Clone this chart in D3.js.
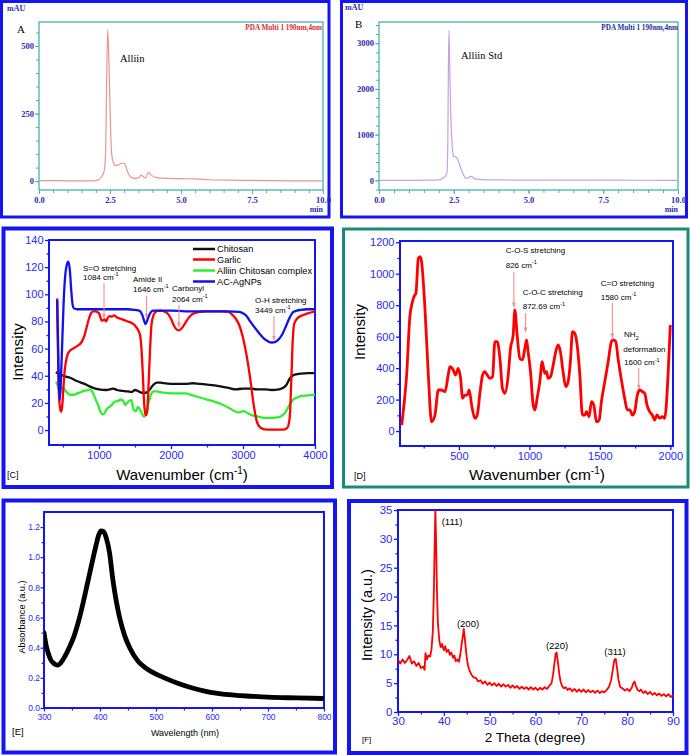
<!DOCTYPE html>
<html><head><meta charset="utf-8">
<script src="https://cdn.jsdelivr.net/npm/d3@7/dist/d3.min.js"></script>
<style>html,body{margin:0;padding:0;background:#fff;}svg{display:block;}</style>
</head><body>
<script>
// ================= DATA =================
// [A] HPLC chromatogram of garlic extract
const chromA_time = [0,0.5,1,1.5,2,2.1,2.2,2.3,2.35,2.38,2.42,2.46,2.5,2.55,2.6,2.65,2.7,2.8,2.9,3.0,3.05,3.1,3.2,3.3,3.4,3.5,3.6,3.7,3.75,3.85,3.95,4.1,4.2,4.5,5.0,5.5,6.0,7.0,8.0,9.0,10.0];
const chromA_mAU  = [2,2,1,1,2,5,15,40,120,350,560,450,280,110,75,62,58,60,66,65,58,40,18,12,10,12,22,14,12,32,22,14,12,10,9,8,5,3,2,1,1];
const chromA_ticksX = [0,2.5,5,7.5,10];
const chromA_ticksY = [0,250,500];
// [B] HPLC chromatogram of alliin standard
const chromB_time = [0,0.5,1,1.5,2,2.1,2.2,2.27,2.3,2.32,2.34,2.36,2.39,2.43,2.47,2.5,2.55,2.6,2.65,2.7,2.75,2.8,2.85,2.9,2.95,3.0,3.05,3.1,3.15,3.2,3.3,3.5,3.7,4,5,6,7,8,9,10];
const chromB_mAU  = [0,0,0,2,8,30,80,150,700,2400,3280,2700,1700,950,600,520,520,490,430,330,240,160,90,50,40,55,85,80,55,30,25,15,10,8,5,4,3,2,1,0];
const chromB_ticksY = [0,1000,2000,3000];

// [C] FTIR spectra
const ftirNames = ["Chitosan","Garlic","Alliin Chitosan complex","AC-AgNPs"];
const ftirColors = ["#111111","#ff0000","#2ef02e","#1010f0"];
const ftirChitosan = [[400,42.5],[450,41.5],[500,40],[600,38.5],[700,36],[800,34],[900,31.5],[1000,30],[1100,29.5],[1200,30.5],[1250,29.5],[1300,29],[1400,28.5],[1450,28],[1500,29.5],[1550,28.5],[1600,27.5],[1650,27.5],[1700,29.5],[1750,33],[1800,35],[1850,35],[1900,34.5],[2000,34],[2100,34],[2200,34],[2300,34.5],[2400,34],[2500,33.5],[2600,33],[2700,32],[2800,31],[2900,30],[3000,30.5],[3100,30.5],[3200,30],[3300,30],[3400,29.5],[3500,30],[3550,31],[3600,33],[3650,38],[3700,40.5],[3800,41.5],[3900,42],[4000,42]];
const ftirGarlic = [[418,97],[425,75],[435,45],[445,25],[460,16],[475,13.5],[490,18],[505,30],[520,42],[540,50],[560,55],[590,58],[640,60],[700,62],[760,65],[800,70],[830,76],[860,82],[890,86],[920,87.5],[950,87.5],[1000,86],[1020,83],[1040,80.5],[1060,81],[1080,81.5],[1100,80],[1120,82.5],[1150,84],[1180,83.5],[1210,84.5],[1250,83],[1300,82],[1350,81],[1400,80],[1450,79],[1500,77],[1540,74],[1570,70],[1590,60],[1610,40],[1625,22],[1640,13],[1655,11],[1670,14],[1690,35],[1710,60],[1730,78],[1760,85],[1800,87.5],[1850,88],[1900,87.5],[1950,86],[2000,82],[2040,77],[2080,74],[2110,73.5],[2150,75],[2200,79],[2250,83],[2300,85.5],[2400,87],[2500,87.5],[2600,87.5],[2700,87.5],[2800,87],[2850,85],[2900,82],[2950,77],[3000,68],[3050,55],[3100,38],[3150,18],[3200,5],[3250,1.5],[3300,0.5],[3400,0.3],[3500,0.3],[3580,0.5],[3620,2],[3650,10],[3670,35],[3690,65],[3710,78],[3750,82],[3800,84],[3850,85],[3900,86],[4000,87.5]];
const ftirComplex = [[400,35.5],[420,34],[440,30],[460,29],[480,31],[500,31],[550,28],[600,26],[650,26],[700,27],[750,28],[800,29],[850,29.5],[880,30],[910,28],[950,23],[990,18],[1020,13.5],[1050,11.5],[1080,12.5],[1100,15],[1130,16.5],[1170,18],[1200,20],[1230,21],[1270,21.5],[1300,22.5],[1330,22],[1360,18.5],[1390,20],[1420,21.5],[1450,22],[1480,15],[1510,14],[1540,17],[1560,16],[1580,14],[1600,12],[1620,10],[1640,10.5],[1660,13],[1690,20],[1720,26],[1760,28.5],[1800,28.5],[1900,27.5],[2000,27],[2100,27],[2200,27],[2300,25.5],[2400,24],[2500,22.5],[2600,21],[2700,19],[2800,16.5],[2900,13.5],[2950,13],[3000,14],[3050,13],[3100,11.5],[3200,10],[3300,9],[3400,9],[3500,9.5],[3550,11],[3600,14],[3650,19],[3700,22.5],[3750,24],[3800,25],[3900,25.5],[4000,26]];
const ftirAgNP = [[420,96],[430,70],[440,40],[455,22],[470,35],[490,65],[510,95],[530,113],[550,121],[575,124],[595,118],[615,103],[635,92],[655,89.5],[700,89],[800,89],[900,89],[1000,89],[1100,89],[1200,89],[1300,89],[1400,89],[1500,88.5],[1560,88],[1600,85],[1630,80],[1646,78],[1665,80],[1700,85],[1750,88],[1800,88],[1900,88],[2000,88],[2200,87.5],[2400,87.5],[2600,87.5],[2800,87.5],[2950,87],[3000,86],[3050,84],[3100,80],[3200,73],[3300,67],[3400,64.5],[3450,65],[3500,67],[3550,71],[3600,77],[3650,83],[3700,87],[3750,88],[3800,88.5],[3900,89],[4000,89]];
const ftirTicksX = [1000,2000,3000,4000];
const ftirTicksY = [0,20,40,60,80,100,120,140];
const ftirPeakLabels = [["S=O stretching","1084 cm"],["Amide II","1646 cm"],["Carbonyl","2064 cm"],["O-H stretching","3449 cm"]];
const ftirPeakAt = [1070,1660,2110,3430];
const ftirPeakTip = [82.5,82.5,76,66.3];

// [D] Raman spectrum
const ramanW = [94,105,129,153,165,181,195,212,224,235,259,283,306,330,354,377,401,424,436,460,476,495,512,526,543,559,573,590,613,630,649,668,684,701,720,739,755,772,791,809,826,850,866,885,897,913,932,951,968,980,991,1008,1027,1039,1055,1074,1091,1109,1121,1133,1150,1169,1187,1204,1220,1239,1258,1275,1291,1306,1322,1339,1358,1376,1393,1405,1424,1440,1457,1476,1495,1511,1535,1559,1582,1594,1613,1629,1653,1676,1695,1712,1731,1747,1766,1783,1802,1818,1835,1853,1872,1889,1905,1924,1943,1960,1984,2000];
const ramanI = [38,123,356,738,801,854,876,1098,1109,1077,780,356,59,102,261,261,250,356,409,388,356,398,335,208,229,229,261,165,81,102,240,356,377,356,335,346,568,568,462,271,240,356,526,611,770,611,462,452,526,579,505,377,165,134,208,314,441,367,377,335,346,420,505,547,505,377,282,314,441,632,621,547,356,102,102,123,91,187,165,59,70,187,314,441,568,579,568,462,324,208,134,134,102,123,229,261,250,240,165,123,102,70,102,81,91,81,356,674];
const ramanTicksX = [500,1000,1500,2000];
const ramanTicksY = [0,200,400,600,800,1000,1200];
const ramanPeakLabels = [["C-O-S stretching","826 cm"],["C-O-C stretching","872.69 cm"],["C=O stretching","1580 cm"],["NH","deformation","1600 cm"]];
const ramanPeakAt = [890,973,1589,1776];
const ramanPeakTip = [789,630,592,267];

// [E] UV-Vis spectrum
const uvW = [300,303,307,312,318,324,330,337,345,353,362,370,376,382,388,393,398,402,406,411,417,423,429,435,444,453,468,480,495,515,540,565,587,610,640,670,700,750,800];
const uvA = [0.50,0.43,0.37,0.32,0.295,0.285,0.30,0.34,0.40,0.47,0.58,0.70,0.80,0.90,1.00,1.08,1.15,1.175,1.17,1.13,1.03,0.85,0.71,0.60,0.48,0.40,0.31,0.27,0.235,0.20,0.163,0.133,0.112,0.097,0.085,0.078,0.072,0.067,0.063];
const uvTicksX = [300,400,500,600,700,800];
const uvTicksY = [0,0.2,0.4,0.6,0.8,1.0,1.2];

// [F] XRD pattern
const xrd = [[30,9.0],[30.5,8.4],[31,9.1],[31.5,8.5],[32,9.0],[32.5,9.7],[33,8.4],[33.5,8.8],[34,8.0],[34.5,8.5],[35,7.6],[35.5,7.9],[35.8,7.3],[36,10.2],[36.3,9.1],[36.6,9.8],[37,9.6],[37.3,10.8],[37.6,14],[37.8,20],[38,29],[38.15,35],[38.3,30],[38.5,21],[38.7,15.5],[39,12.5],[39.3,11.2],[39.6,11.8],[40,10.7],[40.3,11.4],[40.6,10.4],[41,10.8],[41.3,9.9],[41.6,10.3],[42,9.4],[42.3,9.8],[42.6,8.8],[43,9.1],[43.3,8.7],[43.6,10.0],[43.9,11.8],[44.2,13.5],[44.35,14.4],[44.6,12.6],[44.9,10.2],[45.2,8.3],[45.5,7.4],[46,6.5],[46.5,6.0],[47,5.9],[47.5,5.3],[48,5.5],[48.5,4.9],[49,5.3],[49.5,4.7],[50,5.1],[50.5,4.6],[51,5.0],[51.5,4.5],[52,4.9],[52.5,4.4],[53,4.8],[53.5,4.4],[54,4.7],[54.5,4.2],[55,4.6],[55.5,4.2],[56,4.5],[56.5,4.0],[57,4.4],[57.5,4.0],[58,4.3],[58.5,3.9],[59,4.3],[59.5,3.9],[60,4.2],[60.5,3.8],[61,4.2],[61.5,3.9],[62,4.3],[62.5,4.0],[63,4.5],[63.5,5.0],[63.8,6.3],[64.1,8.2],[64.4,10.1],[64.6,10.3],[64.9,8.6],[65.2,6.5],[65.5,5.2],[65.8,4.5],[66.2,4.1],[66.6,4.3],[67,3.8],[67.5,4.1],[68,3.6],[68.5,4.0],[69,3.5],[69.5,3.9],[70,3.5],[70.5,3.9],[71,3.4],[71.5,3.8],[72,3.4],[72.5,3.7],[73,3.3],[73.5,3.7],[74,3.3],[74.5,3.6],[75,3.4],[75.5,3.8],[76,4.3],[76.5,5.5],[76.9,7.5],[77.2,9.0],[77.5,9.2],[77.8,7.6],[78.1,5.6],[78.5,4.3],[79,4.1],[79.5,3.7],[80,4.0],[80.5,3.6],[81,4.2],[81.3,4.9],[81.6,5.3],[81.9,4.5],[82.3,3.8],[82.7,3.6],[83,3.9],[83.5,3.3],[84,3.6],[84.5,3.1],[85,3.5],[85.5,3.0],[86,3.3],[86.5,2.9],[87,3.2],[87.5,2.8],[88,3.1],[88.5,2.7],[89,3.1],[89.5,2.6],[90,2.9]];
const xrdTicksX = [30,40,50,60,70,80,90];
const xrdTicksY = [0,5,10,15,20,25,30,35];
const xrdPeakLabels = ["(111)","(200)","(220)","(311)"];

// ================= DRAWING =================
const svg = d3.select("body").append("svg").attr("width",690).attr("height",755).style("background","#fff");
const SANS = "'Liberation Sans', Arial, sans-serif";
const SERIF = "'Liberation Serif', 'Times New Roman', serif";
const BLUE = "#1515f3";
const TICKBLUE = "#2a2af2";
const TEAL = "#48b2b0";
const ARROW = "#f29090";
const defs = svg.append("defs");
defs.append("marker").attr("id","arr").attr("viewBox","0 0 10 10").attr("refX",9).attr("refY",5)
  .attr("markerWidth",4.5).attr("markerHeight",4.5).attr("orient","auto")
  .append("path").attr("d","M0,1L10,5L0,9Z").attr("fill",ARROW);
let clipN = 0;
function clipRect(x0,y0,x1,y1){const id="clip"+(clipN++);defs.append("clipPath").attr("id",id).append("rect").attr("x",x0).attr("y",y0).attr("width",x1-x0).attr("height",y1-y0);return `url(#${id})`;}
function box(x,y,w,h,color,sw){svg.append("rect").attr("x",x).attr("y",y).attr("width",w).attr("height",h).attr("fill","none").attr("stroke",color).attr("stroke-width",sw);}
function text(x,y,str,o){const t=svg.append("text").attr("x",x).attr("y",y).text(str)
  .attr("font-family",o.font||SANS).attr("font-size",o.size||10).attr("fill",o.fill||"#000")
  .attr("font-weight",o.weight||"normal").attr("text-anchor",o.anchor||"start");
  if(o.rotate) t.attr("transform",`rotate(-90,${x},${y})`); return t;}
function sup(t,s,size){t.append("tspan").attr("dy",-size*0.45).attr("font-size",size*0.7).text(s);return t;}

function axes(o){
  const st=(sel)=>{sel.select(".domain").remove();
    sel.selectAll(".tick line").attr("stroke",o.tickColor).attr("stroke-width",o.tickW);
    sel.selectAll(".tick text").attr("font-family",o.font).attr("font-size",o.size).attr("font-weight",o.weight||"normal").attr("fill",o.fill);};
  const bx = svg.append("g").attr("transform",`translate(0,${o.y.range()[0]})`);
  bx.append("g").call(d3.axisBottom(o.x).tickValues(o.xMinor).tickSize(o.minor).tickFormat("")).call(st);
  bx.append("g").call(d3.axisBottom(o.x).tickValues(o.xMajor).tickSize(o.major).tickPadding(o.padX).tickFormat(o.fmtX)).call(st);
  const ly = svg.append("g").attr("transform",`translate(${o.x.range()[0]},0)`);
  ly.append("g").call(d3.axisLeft(o.y).tickValues(o.yMinor).tickSize(o.minor).tickFormat("")).call(st);
  ly.append("g").call(d3.axisLeft(o.y).tickValues(o.yMajor).tickSize(o.major).tickPadding(o.padY).tickFormat(o.fmtY)).call(st);
  const [x0,x1]=o.x.range(), [y1,y0]=o.y.range();
  svg.append("rect").attr("x",x0).attr("y",y0).attr("width",x1-x0).attr("height",y1-y0)
    .attr("fill","none").attr("stroke",o.frame).attr("stroke-width",o.frameW);
  return clipRect(x0,y0,x1,y1);
}
function inRange(arr,dom){return arr.filter(v=>v>dom[0]+1e-9&&v<dom[1]-1e-9);}

// ---------- Panel A ----------
box(1.5,1.5,327.5,215.5,BLUE,3);
{
  const x=d3.scaleLinear().domain([0,10]).range([39,323]);
  const y=d3.scaleLinear().domain([-33,589]).range([190,22]);
  const cp=axes({x,y,xMajor:chromA_ticksX,xMinor:d3.range(0,10.01,0.5),yMajor:chromA_ticksY,yMinor:inRange(d3.range(-50,600,50),y.domain()),
    major:4,minor:3,padX:3,padY:1,fmtX:d3.format(".1f"),fmtY:d3.format("d"),tickColor:TEAL,tickW:1,font:SERIF,size:8.5,weight:"bold",fill:"#2b2bb0",frame:TEAL,frameW:1.3});
  svg.append("path").datum(chromA_time.map((t,i)=>[t,chromA_mAU[i]])).attr("clip-path",cp)
    .attr("d",d3.line().x(d=>x(d[0])).y(d=>y(d[1])).curve(d3.curveMonotoneX))
    .attr("fill","none").attr("stroke","#e99595").attr("stroke-width",1.2);
  text(7,10.5,"mAU",{font:SERIF,size:8,weight:"bold",fill:"#2b2bb0"});
  text(17,33,"A",{font:SERIF,size:11});
  text(120,62,"Alliin",{font:SERIF,size:10.5});
  text(322,29.5,"PDA Multi 1 190nm,4nm",{font:SERIF,size:7.2,weight:"bold",fill:"#e02a2a",anchor:"end"});
  text(323,211.5,"min",{font:SERIF,size:8,weight:"bold",fill:"#2b2bb0",anchor:"end"});
}
// ---------- Panel B ----------
box(341.5,1.5,345,215.5,BLUE,3);
{
  const x=d3.scaleLinear().domain([0,10]).range([379,678]);
  const y=d3.scaleLinear().domain([-212,3464]).range([190,22]);
  const cp=axes({x,y,xMajor:chromA_ticksX,xMinor:d3.range(0,10.01,0.5),yMajor:chromB_ticksY,yMinor:inRange(d3.range(-200,3500,200),y.domain()),
    major:4,minor:3,padX:3,padY:1,fmtX:d3.format(".1f"),fmtY:d3.format("d"),tickColor:TEAL,tickW:1,font:SERIF,size:8.5,weight:"bold",fill:"#2b2bb0",frame:TEAL,frameW:1.3});
  svg.append("path").datum(chromB_time.map((t,i)=>[t,chromB_mAU[i]])).attr("clip-path",cp)
    .attr("d",d3.line().x(d=>x(d[0])).y(d=>y(d[1])).curve(d3.curveMonotoneX))
    .attr("fill","none").attr("stroke","#c6a2dc").attr("stroke-width",1.2);
  text(345,10,"mAU",{font:SERIF,size:8,weight:"bold",fill:"#2b2bb0"});
  text(355,27.5,"B",{font:SERIF,size:11});
  text(461,59,"Alliin Std",{font:SERIF,size:10.5});
  text(678,30,"PDA Multi 1 190nm,4nm",{font:SERIF,size:7.2,weight:"bold",fill:"#2a2a9a",anchor:"end"});
  text(678,211.5,"min",{font:SERIF,size:8,weight:"bold",fill:"#2b2bb0",anchor:"end"});
}
// ---------- Panel C ----------
box(3.5,228.5,328.5,258.5,BLUE,4);
{
  const x=d3.scaleLinear().domain([306,4000]).range([49,315]);
  const y=d3.scaleLinear().domain([-11,140]).range([445,240]);
  const cp=axes({x,y,xMajor:ftirTicksX,xMinor:[500,1500,2500,3500],yMajor:ftirTicksY,yMinor:d3.range(10,140,20),
    major:4,minor:2.5,padX:2,padY:1.5,fmtX:d3.format("d"),fmtY:d3.format("d"),tickColor:BLUE,tickW:1.3,font:SANS,size:11,fill:TICKBLUE,frame:BLUE,frameW:2});
  const ln=d3.line().x(d=>x(d[0])).y(d=>y(d[1])).curve(d3.curveMonotoneX);
  const series=[ftirChitosan,ftirGarlic,ftirComplex,ftirAgNP];
  [0,2,1,3].forEach(i=>{
    svg.append("path").datum(series[i]).attr("clip-path",cp).attr("d",ln).attr("fill","none")
      .attr("stroke",ftirColors[i]).attr("stroke-width",2.3).attr("stroke-linejoin","round");
  });
  // legend
  const legY=[249,259.5,270.5,281.5];
  ftirNames.forEach((n,i)=>{
    svg.append("line").attr("x1",193).attr("x2",215).attr("y1",legY[i]).attr("y2",legY[i]).attr("stroke",ftirColors[i]).attr("stroke-width",2.5);
    text(217,legY[i]+3.3,n,{size:9.2});
  });
  // annotations
  const lay=[[83,270.5,280,283],[133,282,292,296],[172,291,301.5,305],[255,303,312.5,316]];
  ftirPeakLabels.forEach((lbl,i)=>{
    const L=lay[i];
    text(L[0],L[1],lbl[0],{size:8});
    sup(text(L[0],L[2],lbl[1],{size:8}),"-1",8);
    svg.append("line").attr("x1",x(ftirPeakAt[i])).attr("x2",x(ftirPeakAt[i])).attr("y1",L[3]).attr("y2",y(ftirPeakTip[i]))
      .attr("stroke",ARROW).attr("stroke-width",1.1).attr("marker-end","url(#arr)");
  });
  text(23,352,"Intensity",{size:15.5,anchor:"middle",rotate:true});
  const t=text(182,479.5,"Wavenumber (cm",{size:15,anchor:"middle"});
  t.append("tspan").attr("dy",-6).attr("font-size",10).text("-1");
  t.append("tspan").attr("dy",6).text(")");
  text(7,478,"[C]",{size:9});
}
// ---------- Panel D ----------
box(343.5,229,344.5,258,"#1b8a7c",3);
{
  const x=d3.scaleLinear().domain([82,2019]).range([400,673]);
  const y=d3.scaleLinear().domain([-95,1208]).range([446,241]);
  const cp=axes({x,y,xMajor:ramanTicksX,xMinor:[250,750,1250,1750],yMajor:ramanTicksY,yMinor:d3.range(100,1200,200),
    major:4,minor:2.5,padX:2,padY:1.5,fmtX:d3.format("d"),fmtY:d3.format("d"),tickColor:BLUE,tickW:1.3,font:SANS,size:11,fill:TICKBLUE,frame:BLUE,frameW:2});
  svg.append("path").datum(ramanW.map((w,i)=>[w,ramanI[i]])).attr("clip-path",cp)
    .attr("d",d3.line().x(d=>x(d[0])).y(d=>y(d[1])).curve(d3.curveMonotoneX))
    .attr("fill","none").attr("stroke","#ff0000").attr("stroke-width",2.8).attr("stroke-linejoin","round");
  const lay=[[505.7,253.3,267.7,272],[522.7,295.3,309.3,313],[600.7,286.3,299.7,303],[624,337,352,365.3,368]];
  ramanPeakLabels.forEach((lbl,i)=>{
    const L=lay[i];
    if(lbl.length===2){
      text(L[0],L[1],lbl[0],{size:8});
      sup(text(L[0],L[2],lbl[1],{size:8}),"-1",8);
    } else {
      const t=text(L[0],L[1],lbl[0],{size:8});
      t.append("tspan").attr("dy",2.5).attr("font-size",6).text("2");
      text(L[0]-0.7,L[2],lbl[1],{size:8});
      sup(text(L[0],L[3],lbl[2],{size:8}),"-1",8);
    }
    svg.append("line").attr("x1",x(ramanPeakAt[i])).attr("x2",x(ramanPeakAt[i])).attr("y1",L[L.length-1]).attr("y2",y(ramanPeakTip[i]))
      .attr("stroke",ARROW).attr("stroke-width",1.1).attr("marker-end","url(#arr)");
  });
  text(365,332,"Intensity",{size:15,anchor:"middle",rotate:true});
  const t=text(537,480,"Wavenumber (cm",{size:15.5,anchor:"middle"});
  t.append("tspan").attr("dy",-6).attr("font-size",10).text("-1");
  t.append("tspan").attr("dy",6).text(")");
  text(354,479,"[D]",{size:9});
}
// ---------- Panel E ----------
box(3.5,500.5,331.5,252,BLUE,4);
{
  const x=d3.scaleLinear().domain([300,800]).range([44,324]);
  const y=d3.scaleLinear().domain([0,1.3]).range([708,512]);
  const cp=axes({x,y,xMajor:uvTicksX,xMinor:[350,450,550,650,750],yMajor:uvTicksY,yMinor:[0.1,0.3,0.5,0.7,0.9,1.1],
    major:3.5,minor:2.5,padX:2,padY:0.5,fmtX:d3.format("d"),fmtY:d3.format(".1f"),tickColor:BLUE,tickW:1.2,font:SANS,size:8.5,fill:TICKBLUE,frame:BLUE,frameW:2});
  svg.append("path").datum(uvW.map((w,i)=>[w,uvA[i]])).attr("clip-path",cp)
    .attr("d",d3.line().x(d=>x(d[0])).y(d=>y(d[1])).curve(d3.curveMonotoneX))
    .attr("fill","none").attr("stroke","#000").attr("stroke-width",4.8).attr("stroke-linecap","round").attr("stroke-linejoin","round");
  text(25,617,"Absorbance (a.u.)",{size:9.2,anchor:"middle",rotate:true});
  text(185,735.5,"Wavelength (nm)",{size:9,anchor:"middle"});
  text(12,735,"[E]",{size:9.5});
}
// ---------- Panel F ----------
box(349,501,337.5,252,BLUE,4);
{
  const x=d3.scaleLinear().domain([30,90]).range([398,673]);
  const y=d3.scaleLinear().domain([0,35]).range([712,510]);
  const cp=axes({x,y,xMajor:xrdTicksX,xMinor:[35,45,55,65,75,85],yMajor:xrdTicksY,yMinor:[2.5,7.5,12.5,17.5,22.5,27.5,32.5],
    major:4,minor:2.5,padX:0.5,padY:1.5,fmtX:d3.format("d"),fmtY:d3.format("d"),tickColor:BLUE,tickW:1.3,font:SANS,size:11.5,fill:TICKBLUE,frame:BLUE,frameW:2});
  svg.append("path").datum(xrd).attr("clip-path",cp)
    .attr("d",d3.line().x(d=>x(d[0])).y(d=>y(d[1])))
    .attr("fill","none").attr("stroke","#ff0000").attr("stroke-width",1.8).attr("stroke-linejoin","round");
  const lay=[[441.7,524.5,"start"],[468,626.5,"middle"],[557,648.5,"middle"],[615,655,"middle"]];
  xrdPeakLabels.forEach((l,i)=>text(lay[i][0],lay[i][1],l,{size:9.5,anchor:lay[i][2]}));
  text(371.5,615,"Intensity (a.u.)",{size:14.5,anchor:"middle",rotate:true});
  text(535,742,"2 Theta (degree)",{size:13.5,anchor:"middle"});
  text(362,742,"[F]",{size:8});
}
</script>
</body></html>
